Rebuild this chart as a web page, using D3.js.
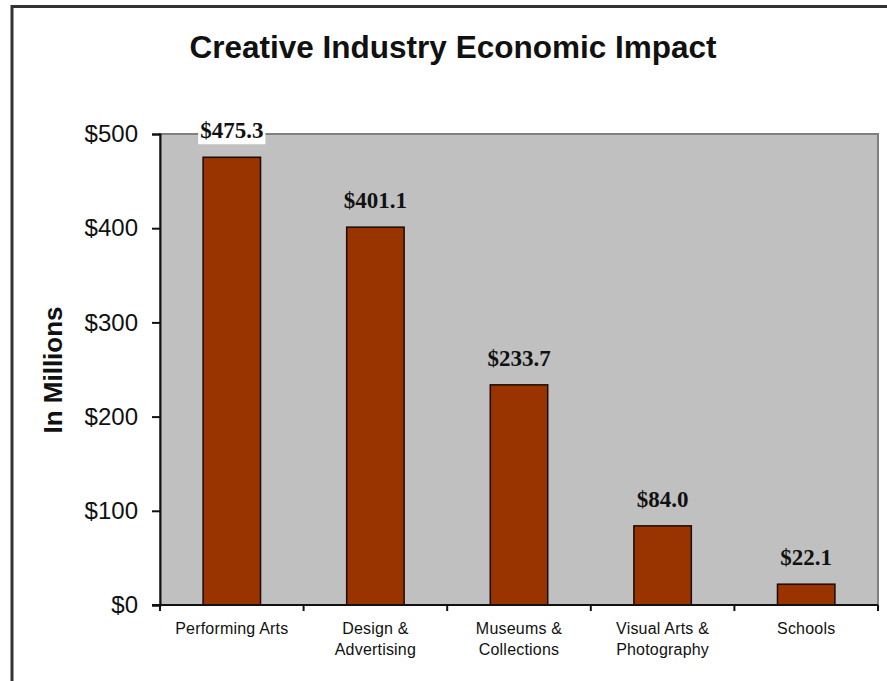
<!DOCTYPE html>
<html>
<head>
<meta charset="utf-8">
<script src="https://cdn.jsdelivr.net/npm/d3@7/dist/d3.min.js"></script>
<style>
  html, body { margin: 0; padding: 0; background: #fff; }
  svg { display: block; }
</style>
</head>
<body>
<svg id="chart" width="887" height="681"></svg>
<script>
// Economic impact by creative-industry segment, in millions of dollars
const categories = [
  ["Performing Arts"],
  ["Design &", "Advertising"],
  ["Museums &", "Collections"],
  ["Visual Arts &", "Photography"],
  ["Schools"]
];
const values = [475.3, 401.1, 233.7, 84.0, 22.1];
const yTicks = [0, 100, 200, 300, 400, 500];

const svg = d3.select("#chart");
const plot = { left: 160, right: 878, top: 134, bottom: 605 };

// frame around the whole chart
svg.append("rect")
  .attr("x", 12).attr("y", 6.5)
  .attr("width", 900).attr("height", 700)
  .attr("fill", "#fff")
  .attr("stroke", "#333").attr("stroke-width", 3);

const x = d3.scaleBand()
  .domain(d3.range(values.length))
  .range([plot.left, plot.right])
  .paddingInner(0.6)
  .paddingOuter(0.3);

const y = d3.scaleLinear()
  .domain([0, 500])
  .range([plot.bottom, plot.top]);

// plot area
svg.append("rect")
  .attr("x", plot.left).attr("y", plot.top)
  .attr("width", plot.right - plot.left)
  .attr("height", plot.bottom - plot.top)
  .attr("fill", "#c0c0c0")
  .attr("stroke", "#808080").attr("stroke-width", 2);

// bars
svg.append("g").selectAll("rect")
  .data(values)
  .join("rect")
  .attr("x", (d, i) => x(i))
  .attr("y", d => y(d))
  .attr("width", x.bandwidth())
  .attr("height", d => y(0) - y(d))
  .attr("fill", "#993300")
  .attr("stroke", "#1a0a00").attr("stroke-width", 1.5);

// y axis
const yAxis = svg.append("g")
  .attr("transform", `translate(${plot.left},0)`)
  .call(d3.axisLeft(y).tickValues(yTicks).tickSize(8).tickPadding(14)
    .tickFormat(d => "$" + d));
yAxis.select(".domain").attr("stroke", "#111").attr("stroke-width", 2);
yAxis.selectAll(".tick line").attr("stroke", "#111").attr("stroke-width", 2);
yAxis.selectAll(".tick text")
  .attr("font-family", "Liberation Sans, Arial, sans-serif")
  .attr("font-size", 24)
  .attr("fill", "#111");

// x axis: ticks sit at the category boundaries
const edges = d3.range(values.length + 1).map(i => plot.left + i * x.step());
const xAxis = svg.append("g");
xAxis.append("line")
  .attr("x1", plot.left - 8).attr("x2", plot.right)
  .attr("y1", plot.bottom).attr("y2", plot.bottom)
  .attr("stroke", "#111").attr("stroke-width", 2);
xAxis.selectAll("line.tick")
  .data(edges)
  .join("line")
  .attr("class", "tick")
  .attr("x1", d => d).attr("x2", d => d)
  .attr("y1", plot.bottom).attr("y2", plot.bottom + 6)
  .attr("stroke", "#111").attr("stroke-width", 2);

// category labels
svg.append("g").selectAll("text")
  .data(categories)
  .join("text")
  .attr("x", (d, i) => x(i) + x.bandwidth() / 2)
  .attr("y", 634)
  .attr("text-anchor", "middle")
  .attr("font-family", "Liberation Sans, Arial, sans-serif")
  .attr("font-size", 16)
  .attr("letter-spacing", 0.2)
  .attr("fill", "#111")
  .selectAll("tspan")
  .data(d => d)
  .join("tspan")
  .attr("x", function () { return d3.select(this.parentNode).attr("x"); })
  .attr("dy", (d, j) => j === 0 ? 0 : 21)
  .text(d => d);

// value labels above each bar
const labels = svg.append("g").selectAll("g")
  .data(values)
  .join("g");
labels.append("text")
  .attr("x", (d, i) => x(i) + x.bandwidth() / 2)
  .attr("y", d => y(d) - 19)
  .attr("text-anchor", "middle")
  .attr("font-family", "Liberation Serif, Times New Roman, serif")
  .attr("font-weight", "bold")
  .attr("font-size", 23)
  .attr("fill", "#111")
  .text(d => "$" + d.toFixed(1));
// labels crossing the top edge of the plot get a white backing
labels.each(function () {
  const g = d3.select(this);
  const b = g.select("text").node().getBBox();
  if (b.y < plot.top) {
    g.insert("rect", "text")
      .attr("x", b.x - 2).attr("y", b.y + 1)
      .attr("width", b.width + 4).attr("height", b.height)
      .attr("fill", "#fff");
  }
});

// title
svg.append("text")
  .attr("x", 453).attr("y", 58)
  .attr("text-anchor", "middle")
  .attr("font-family", "Liberation Sans, Arial, sans-serif")
  .attr("font-weight", "bold")
  .attr("font-size", 31.5)
  .attr("fill", "#111")
  .text("Creative Industry Economic Impact");

// y axis title
svg.append("text")
  .attr("transform", "translate(62,370) rotate(-90)")
  .attr("text-anchor", "middle")
  .attr("font-family", "Liberation Sans, Arial, sans-serif")
  .attr("font-weight", "bold")
  .attr("font-size", 26)
  .attr("fill", "#111")
  .text("In Millions");
</script>
</body>
</html>
